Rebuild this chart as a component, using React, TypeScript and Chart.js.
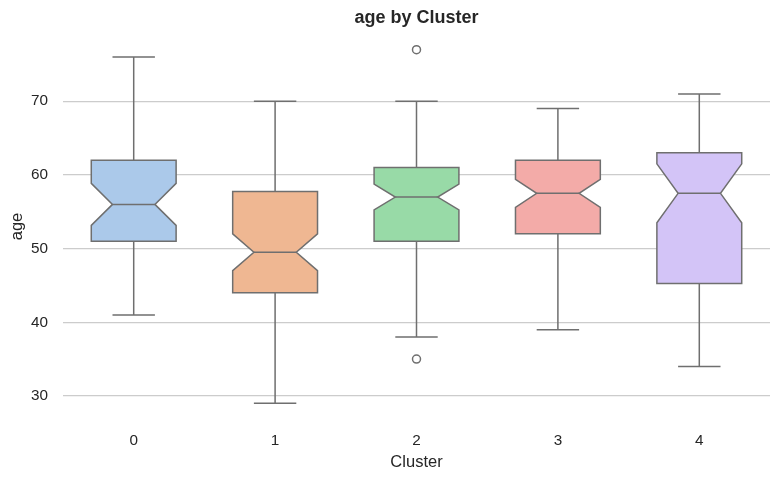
import React, { useEffect, useRef } from "react";
import { Chart, registerables } from "chart.js";

Chart.register(...registerables);

const categories = ["0", "1", "2", "3", "4"];
const whiskerLow = [41, 29, 38, 39, 34];
const q1 = [51, 44, 51, 52, 45.25];
const median = [56, 49.5, 57, 57.5, 57.5];
const q3 = [62, 57.75, 61, 62, 63];
const whiskerHigh = [76, 70, 70, 69, 71];
const notchLow = [53.15, 47.0, 55.25, 55.6, 53.5];
const notchHigh = [58.85, 52.0, 58.75, 59.4, 61.5];
const outlierCluster = ["2", "2"];
const outlierValues = [77, 35];
const yTicks = [30, 40, 50, 60, 70];
const fillColors = ["#abc9ea", "#efb792", "#98daa7", "#f3aba8", "#d3c4f7"];

const LINE = "#6f6f6f";
const TEXT = "#262626";
const FONT = "'Liberation Sans', Arial, Helvetica, sans-serif";

const boxPlugin = {
  id: "notchedBoxes",
  beforeDatasetsDraw(chart: any) {
    const { ctx, chartArea, scales } = chart;
    const x = scales.x;
    const y = scales.y;
    const band = Math.abs(x.getPixelForValue(1) - x.getPixelForValue(0));
    const w = band * 0.6;
    ctx.save();
    ctx.beginPath();
    ctx.rect(chartArea.left, chartArea.top, chartArea.right - chartArea.left, chartArea.bottom - chartArea.top);
    ctx.clip();
    ctx.lineWidth = 1.5;
    ctx.strokeStyle = LINE;
    ctx.lineJoin = "miter";
    categories.forEach((_, i) => {
      const c = x.getPixelForValue(i);
      const x0 = c - w / 2;
      const x1 = c + w / 2;
      const xl = c - w / 4;
      const xr = c + w / 4;
      const yq1 = y.getPixelForValue(q1[i]);
      const yq3 = y.getPixelForValue(q3[i]);
      const ym = y.getPixelForValue(median[i]);
      const ynl = y.getPixelForValue(notchLow[i]);
      const ynh = y.getPixelForValue(notchHigh[i]);
      const ywl = y.getPixelForValue(whiskerLow[i]);
      const ywh = y.getPixelForValue(whiskerHigh[i]);

      // whiskers
      ctx.beginPath();
      ctx.moveTo(c, yq3);
      ctx.lineTo(c, ywh);
      ctx.moveTo(xl, ywh);
      ctx.lineTo(xr, ywh);
      ctx.moveTo(c, yq1);
      ctx.lineTo(c, ywl);
      ctx.moveTo(xl, ywl);
      ctx.lineTo(xr, ywl);
      ctx.stroke();

      // notched box
      ctx.beginPath();
      ctx.moveTo(x0, yq1);
      ctx.lineTo(x0, ynl);
      ctx.lineTo(xl, ym);
      ctx.lineTo(x0, ynh);
      ctx.lineTo(x0, yq3);
      ctx.lineTo(x1, yq3);
      ctx.lineTo(x1, ynh);
      ctx.lineTo(xr, ym);
      ctx.lineTo(x1, ynl);
      ctx.lineTo(x1, yq1);
      ctx.closePath();
      ctx.fillStyle = fillColors[i];
      ctx.fill();
      ctx.stroke();

      // median
      ctx.beginPath();
      ctx.moveTo(xl, ym);
      ctx.lineTo(xr, ym);
      ctx.stroke();
    });
    ctx.restore();
  },
};

export default function App() {
  const ref = useRef<HTMLCanvasElement | null>(null);
  useEffect(() => {
    if (!ref.current) return;
    Chart.defaults.font.family = FONT;
    Chart.defaults.color = TEXT;
    const chart = new Chart(ref.current, {
      type: "scatter",
      data: {
        labels: categories,
        datasets: [
          {
            data: outlierCluster.map((c, i) => ({ x: c, y: outlierValues[i] })) as any,
            pointStyle: "circle",
            pointRadius: 4,
            pointBackgroundColor: "rgba(0,0,0,0)",
            pointBorderColor: LINE,
            pointBorderWidth: 1.5,
            showLine: false,
          },
        ],
      },
      options: {
        animation: false,
        responsive: false,
        layout: { padding: { left: 4, right: 10, top: 0, bottom: 8 } },
        plugins: {
          legend: { display: false },
          tooltip: { enabled: false },
          title: {
            display: true,
            fullSize: false,
            text: "age by Cluster",
            color: TEXT,
            font: { size: 18, weight: "bold", family: FONT },
            padding: { top: 7, bottom: 3.4 },
          },
        },
        scales: {
          x: {
            type: "category",
            labels: categories,
            offset: true,
            grid: { display: false, drawTicks: false },
            border: { display: false },
            ticks: { color: TEXT, font: { size: 15.3, family: FONT }, padding: 11 },
            title: {
              display: true,
              text: "Cluster",
              color: TEXT,
              font: { size: 16.5, family: FONT },
              padding: { top: 3, bottom: 0 },
            },
            afterFit: (scale: any) => {
              scale.height = 51;
            },
          },
          y: {
            type: "linear",
            min: 26.6,
            max: 79.4,
            afterBuildTicks: (scale: any) => {
              scale.ticks = yTicks.map((v) => ({ value: v }));
            },
            grid: { color: "#cccccc", lineWidth: 1.2, drawTicks: false },
            border: { display: false },
            ticks: { color: TEXT, font: { size: 15.3, family: FONT }, padding: 15 },
            title: {
              display: true,
              text: "age",
              color: TEXT,
              font: { size: 16.5, family: FONT },
              padding: { top: 3.5, bottom: 5 },
            },
            afterFit: (scale: any) => {
              scale.width = 59;
            },
          },
        },
      },
      plugins: [boxPlugin],
    });
    return () => chart.destroy();
  }, []);
  return (
    <div style={{ position: "fixed", left: 0, top: 0, width: 780, height: 480, background: "#fff" }}>
      <canvas ref={ref} width={780} height={480} />
    </div>
  );
}
